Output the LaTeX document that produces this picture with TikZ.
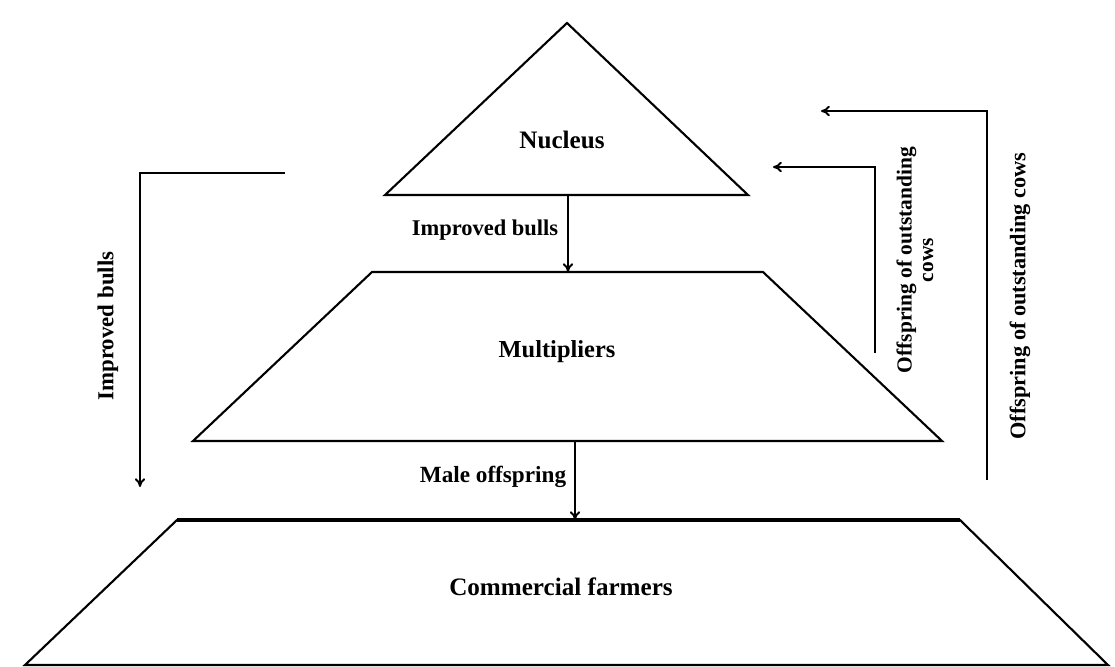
\documentclass[tikz,border=0pt]{standalone}
\usepackage{fontspec}
\setmainfont{Liberation Serif}
\usetikzlibrary{arrows.meta}
\newcommand{\shapewd}{1.2pt}
\newcommand{\flowwd}{1.1pt}
\tikzset{
  tier/.style={draw=black,line width=\shapewd,line join=miter},
  flow/.style={draw=black,line width=\flowwd,-{To[length=5pt,width=6pt]}},
  lbl/.style={font=\bfseries\fontsize{#1}{#1}\selectfont,text=black,inner sep=0pt},
  lbl/.default=13.5,
}
\begin{document}
\begin{tikzpicture}[x=0.02cm,y=-0.02cm]
    \useasboundingbox (0,0) rectangle (1115,666);
    % nucleus part
    \coordinate (nucT) at (567,23);
    \coordinate (nucL) at (385,195);
    \coordinate (nucR) at (748,195);
    \coordinate (nucB) at (568,195);
    \draw[tier] (nucT) -- (nucR) -- (nucL) -- cycle;
    \node[lbl=14.3] (nucleus) at (562,140) {Nucleus};

    % multipliers part
    \coordinate (mulTL) at (372,272);
    \coordinate (mulTR) at (763,272);
    \coordinate (mulBR) at (942,441);
    \coordinate (mulBL) at (193,441);
    \coordinate (mulT) at (568,272);
    \coordinate (mulB) at (575,441);
    \draw[tier] (mulTL) -- (mulTR) -- (mulBR) -- (mulBL) -- cycle;
    \node[lbl=13.9] (multipliers) at (557,352) {Multipliers};

    % commercial part
    \coordinate (comTL) at (177,520);
    \coordinate (comTR) at (960,520);
    \coordinate (comBR) at (1108,665);
    \coordinate (comBL) at (25,665);
    \coordinate (comT) at (575,520);
    \draw[tier] (comTL) -- (comTR) -- (comBR) -- (comBL) -- cycle;
    \draw[tier,line width=2pt] (comTL) -- (comTR);
    \node[lbl=14.3] (commercial) at (561,587) {Commercial farmers};

    % downward flows
    \draw[flow] (nucB) -- (mulT);
    \node[lbl=12.8] (bullsmid) at (485,230) {Improved bulls};
    \draw[flow] (mulB) -- (comT);
    \node[lbl=13.2] (maleoff) at (493,477) {Male offspring};

    % improved bulls to commercial farmers
    \coordinate (leftS) at (285,173);
    \coordinate (leftC) at (140,173);
    \coordinate (leftE) at (140,487);
    \draw[flow] (leftS) -- (leftC) -- (leftE);
    \node[lbl=13,rotate=90] (bullsleft) at (108,326) {Improved bulls};

    % offspring from multipliers
    \coordinate (innS) at (875,353);
    \coordinate (innC) at (875,167);
    \coordinate (innE) at (773,167);
    \draw[flow] (innS) -- (innC) -- (innE);
    \node[lbl=12.2,rotate=90,align=center] (offinner) at (915,260)
      {Offspring of outstanding\\cows};

    % offspring from commercial farmers
    \coordinate (outS) at (987,480);
    \coordinate (outC) at (987,111);
    \coordinate (outE) at (821,111);
    \draw[flow] (outS) -- (outC) -- (outE);
    \node[lbl=12.7,rotate=90] (offouter) at (1020,296) {Offspring of outstanding cows};
\end{tikzpicture}
\end{document}
